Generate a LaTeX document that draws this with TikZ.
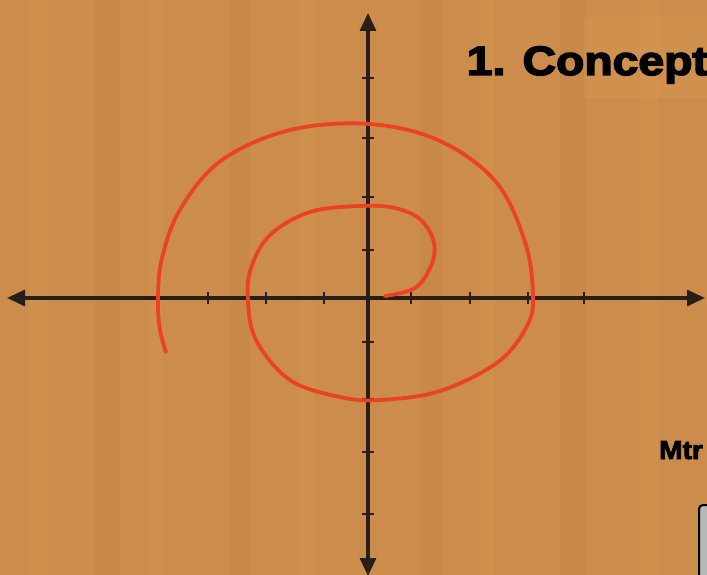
\documentclass[tikz,border=0pt]{standalone}
\usepackage{fontspec}
\setmainfont{Liberation Sans}
\usetikzlibrary{arrows.meta}
\definecolor{board}{RGB}{204,141,76}
\definecolor{boardlight}{RGB}{214,152,84}
\definecolor{boarddark}{RGB}{192,130,66}
\definecolor{axisc}{RGB}{40,30,26}
\definecolor{spiral}{RGB}{234,66,34}
\definecolor{boxgray}{RGB}{182,186,182}
\tikzset{
  axisline/.style={draw=axisc, line width=3.2pt, -{Triangle[length=18pt,width=16pt]}},
  tickmark/.style={draw=axisc, line width=1.5pt},
  spiralline/.style={draw=spiral, line width=3.8pt, line cap=round, line join=round},
  titletext/.style={anchor=base west, inner sep=0pt},
}
\begin{document}
\begin{tikzpicture}[x=1pt,y=-1pt]
\useasboundingbox (0,0) rectangle (707,575);
\clip (0,0) rectangle (707,575);
\fill[board] (0,0) rectangle (707,575);
% cardboard texture streaks
\foreach \xx/\ww/\cc in {30/18/boardlight,95/25/boarddark,150/12/boardlight,230/20/boarddark,300/15/boardlight,420/22/boarddark,480/14/boardlight,560/26/boarddark,640/18/boardlight}{
  \fill[\cc, opacity=0.3] (\xx,0) rectangle ++(\ww,575);
}
\fill[boardlight, opacity=0.45] (584,17) rectangle (707,98);
% coordinates
\coordinate (o) at (368,298);
\coordinate (xl) at (7,298);
\coordinate (xr) at (705,298);
\coordinate (yt) at (368,13);
\coordinate (yb) at (368,576);
% axes
\draw[axisline] (o) -- (xl);
\draw[axisline] (o) -- (xr);
\draw[axisline] (o) -- (yt);
\draw[axisline] (o) -- (yb);
% ticks
\foreach \tx in {208,266,324,411,470,528,584}{
  \draw[tickmark] (\tx,292) -- (\tx,304);
}
\foreach \ty in {78,138,197,250,342,399,452,514}{
  \draw[tickmark] (362,\ty) -- (374,\ty);
}
% spiral
\draw[spiralline] plot[smooth, tension=0.6] coordinates {
 (385,296) (415,288) (431,266) (434,243) (421,220) (395,208) (360,206)
 (310,212) (270,235) (251,268) (248,300) (256,340) (290,380) (340,397)
 (380,400) (440,391) (498,362) (527,326) (533,295) (525,242) (496,182)
 (440,141) (370,124) (290,130) (222,160) (181,208) (162,258) (158,300)
 (160,330) (166,352)};
% texts (drawn thick to imitate a black face)
\node[titletext, font=\bfseries\fontsize{41}{41}\selectfont, xscale=1.13,
      draw=none, text=black, line width=1.4pt] (title) at (466,75)
      {\special{pdf:literal direct 2 Tr 1.4 w}1. Concept\special{pdf:literal direct 0 Tr}};
\node[titletext, font=\bfseries\fontsize{26}{26}\selectfont, xscale=1.08] (mtr) at (659,459)
      {\special{pdf:literal direct 2 Tr 0.8 w}Mtr\special{pdf:literal direct 0 Tr}};
% gray box
\draw[draw=black, line width=2pt, fill=boxgray, rounded corners=4pt] (699,505) rectangle (740,600);
\end{tikzpicture}
\end{document}
